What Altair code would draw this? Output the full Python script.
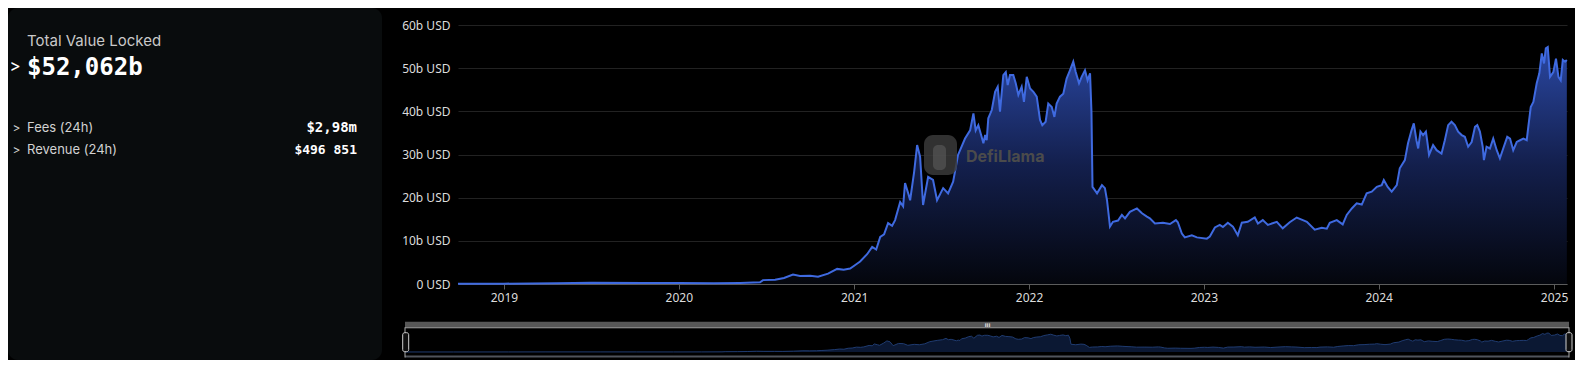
import altair as alt
import pandas as pd

# ---- data (time as decimal year, TVL in billions USD) ----
t_early = [2018.737, 2019.000, 2019.300, 2019.500, 2019.800, 2020.000, 2020.200, 2020.350, 2020.463, 2020.480,
           2020.549, 2020.600, 2020.651, 2020.691, 2020.749, 2020.794, 2020.851, 2020.903, 2020.940, 2020.977]
v_early = [0.05, 0.08, 0.15, 0.3, 0.25, 0.22, 0.15, 0.25, 0.4, 0.9,
           1.0, 1.4, 2.2, 1.85, 1.9, 1.7, 2.4, 3.5, 3.3, 3.6]

t_2021a = [2021.006, 2021.034, 2021.074, 2021.103, 2021.126, 2021.149, 2021.171, 2021.194, 2021.217, 2021.234,
           2021.263, 2021.280, 2021.291, 2021.309, 2021.320, 2021.343, 2021.360, 2021.377, 2021.394, 2021.423,
           2021.451, 2021.474, 2021.509, 2021.537, 2021.566]
v_2021a = [4.4, 5.2, 6.9, 8.6, 8.0, 10.9, 11.5, 14.1, 13.5, 14.8,
           19.0, 18.0, 23.4, 21.0, 19.4, 26.0, 32.2, 29.5, 18.3, 24.8,
           24.1, 19.4, 22.2, 21.0, 23.7]

t_peak = [2021.594, 2021.634, 2021.663, 2021.682, 2021.695, 2021.710, 2021.726, 2021.739, 2021.749, 2021.758,
          2021.767, 2021.787, 2021.806, 2021.821, 2021.834, 2021.853, 2021.867, 2021.878, 2021.891, 2021.910,
          2021.924, 2021.939, 2021.958, 2021.971, 2021.987, 2022.006, 2022.025, 2022.044, 2022.063, 2022.076,
          2022.095, 2022.110, 2022.130, 2022.145, 2022.158, 2022.177, 2022.196, 2022.215, 2022.234, 2022.253,
          2022.267, 2022.286, 2022.301, 2022.320, 2022.335, 2022.349, 2022.357, 2022.363]
v_peak = [29.9, 33.7, 35.6, 39.5, 35.6, 36.8, 34.5, 32.6, 34.5, 33.3,
          38.4, 40.3, 44.5, 45.7, 39.9, 48.4, 49.1, 46.1, 48.4, 48.4,
          46.5, 43.8, 45.7, 42.2, 48.0, 45.3, 44.5, 43.4, 38.0, 36.8,
          37.6, 41.8, 41.0, 38.7, 41.8, 43.4, 44.1, 47.6, 49.5, 51.5,
          49.1, 46.5, 48.0, 49.5, 47.2, 48.8, 40.0, 22.5]

t_bear = [2022.389, 2022.417, 2022.434, 2022.446, 2022.463, 2022.480, 2022.509, 2022.531, 2022.549, 2022.577,
          2022.617, 2022.646, 2022.674, 2022.691, 2022.720, 2022.766, 2022.806, 2022.840, 2022.851, 2022.874,
          2022.891, 2022.931, 2022.960, 2023.017, 2023.034, 2023.063, 2023.091, 2023.109, 2023.137, 2023.166,
          2023.194, 2023.217, 2023.251, 2023.291, 2023.309, 2023.337, 2023.366, 2023.417, 2023.451, 2023.491,
          2023.531, 2023.566, 2023.589, 2023.634, 2023.674, 2023.703, 2023.720, 2023.760, 2023.794, 2023.817,
          2023.846, 2023.874, 2023.903, 2023.931, 2023.960, 2023.989, 2024.017, 2024.029, 2024.051, 2024.074,
          2024.103]
v_bear = [21.0, 22.9, 22.2, 19.4, 13.3, 14.4, 14.7, 16.0, 15.2, 16.7,
          17.5, 16.4, 15.6, 15.2, 14.0, 14.2, 13.9, 14.8, 14.3, 11.7,
          10.8, 11.3, 10.8, 10.5, 11.0, 13.1, 13.7, 13.2, 14.2, 13.3,
          11.3, 14.2, 14.4, 15.4, 14.0, 14.8, 13.7, 14.4, 12.9, 14.3,
          15.4, 14.8, 14.4, 12.6, 13.0, 12.8, 14.2, 14.8, 13.8, 16.0,
          17.5, 18.7, 18.4, 21.0, 21.4, 22.5, 22.9, 24.1, 22.5, 21.4,
          22.9]

t_2024 = [2024.120, 2024.149, 2024.167, 2024.187, 2024.200, 2024.215, 2024.225, 2024.238, 2024.253, 2024.269,
          2024.276, 2024.287, 2024.310, 2024.330, 2024.358, 2024.377, 2024.396, 2024.415, 2024.434, 2024.453,
          2024.473, 2024.491, 2024.510, 2024.530, 2024.549, 2024.562, 2024.577, 2024.593, 2024.600, 2024.615,
          2024.634, 2024.653, 2024.673, 2024.691, 2024.710, 2024.733, 2024.749, 2024.767, 2024.787, 2024.806,
          2024.825, 2024.844, 2024.853, 2024.867, 2024.882, 2024.901, 2024.916, 2024.930, 2024.943, 2024.953,
          2024.964, 2024.977, 2024.996, 2025.011, 2025.025, 2025.038, 2025.050, 2025.063, 2025.073]
v_2024 = [26.8, 28.7, 32.6, 35.6, 37.2, 33.3, 31.4, 35.3, 34.5, 35.3,
          33.3, 29.9, 32.2, 31.0, 30.2, 33.3, 36.8, 37.6, 36.8, 35.3,
          34.5, 34.1, 31.8, 32.9, 36.4, 36.8, 35.3, 31.8, 28.7, 31.8,
          31.4, 33.7, 31.0, 29.1, 31.4, 34.1, 33.7, 31.0, 32.9, 33.3,
          33.7, 33.3, 36.4, 41.0, 42.2, 46.5, 48.8, 53.4, 51.1, 54.6,
          54.9, 48.0, 49.1, 52.2, 48.0, 47.2, 51.9, 51.5, 51.9]

time_years = t_early + t_2021a + t_peak + t_bear + t_2024
tvl_billions = v_early + v_2021a + v_peak + v_bear + v_2024

x_start_year = 2018.737
x_end_year = 2025.074
year_ticks = [2019, 2020, 2021, 2022, 2023, 2024, 2025]
y_ticks = [0, 10, 20, 30, 40, 50, 60]

panel_title = "Total Value Locked"
panel_value = "$52,062b"
row_labels = ["Fees (24h)", "Revenue (24h)"]
row_values = ["$2,98m", "$496 851"]
watermark = "DefiLlama"


def to_ts(t):
    y = int(t)
    s = pd.Timestamp(y, 1, 1)
    e = pd.Timestamp(y + 1, 1, 1)
    return s + (e - s) * (t - y)


def to_dt(t):
    ts = to_ts(t)
    return alt.DateTime(year=ts.year, month=ts.month, date=ts.day, hours=ts.hour)


df = pd.DataFrame({"date": [to_ts(t) for t in time_years], "tvl": tvl_billions})
x_domain = [to_dt(x_start_year), to_dt(x_end_year)]

base = alt.Chart(df)

# ---- main chart ----
xs = alt.X(
    "date:T",
    scale=alt.Scale(domain=x_domain, range=[450, 1559]),
    axis=alt.Axis(
        orient="bottom", offset=-76, values=[alt.DateTime(year=y, month=1, date=1) for y in year_ticks],
        format="%Y", grid=False, title=None, domainColor="#5c5c5c", tickColor="#5c5c5c",
        tickSize=5, labelPadding=3, labelColor="#dcdcdc", labelFont="Noto Sans",
        labelFontSize=12, labelFlush=False,
    ),
)
ys = alt.Y(
    "tvl:Q",
    scale=alt.Scale(domain=[0, 60], range=[276, 17], nice=False, zero=True),
    axis=alt.Axis(
        orient="left", offset=-450, values=y_ticks, domain=False, ticks=False,
        labelExpr="datum.value == 0 ? '0 USD' : datum.value + 'b USD'",
        labelPadding=8, grid=True, gridColor="#222222", gridWidth=1, title=None,
        labelColor="#dcdcdc", labelFont="Noto Sans", labelFontSize=12,
    ),
)

gradient = alt.LinearGradient(
    gradient="linear",
    stops=[
        alt.GradientStop(color="#2a47a2", offset=0),
        alt.GradientStop(color="#131f4c", offset=0.5),
        alt.GradientStop(color="#04060d", offset=1),
    ],
    x1=1, x2=1, y1=0, y2=1,
)
area = base.mark_area(color=gradient).encode(x=xs, y=ys)
line = base.mark_line(color="#3f6ae0", strokeWidth=2).encode(x=xs, y=ys)
main = alt.layer(area, line)

# ---- slider mini chart ----
xs2 = alt.X("date:T", scale=alt.Scale(domain=x_domain, range=[397, 1561]), axis=None)
ys2 = alt.Y("tvl:Q", scale=alt.Scale(domain=[0, 60], range=[344, 323.3], nice=False), axis=None)
mini = base.mark_area(color="#0f2248", line={"color": "#1f3b70", "strokeWidth": 1}).encode(
    x=xs2, y=ys2, y2=alt.value(347.5)
)

one = pd.DataFrame({"k": [0]})


def rect(x, x2, y, y2, **kw):
    return alt.Chart(one).mark_rect(**kw).encode(
        x=alt.value(x), x2=alt.value(x2), y=alt.value(y), y2=alt.value(y2)
    )


def txt(s, x, y, **kw):
    return alt.Chart(one).mark_text(text=s, **kw).encode(x=alt.value(x), y=alt.value(y))


panel = rect(0, 374, 0, 352, color="#090c0d", cornerRadius=10)
texts = [
    txt(panel_title, 19, 33, align="left", baseline="middle", font="Inter", fontSize=15, color="#c9c9c9"),
    txt(">", 7, 59, align="center", baseline="middle", font="Inter", fontSize=17, color="#ffffff"),
    txt(panel_value, 19, 60, align="left", baseline="middle", font="DejaVu Sans Mono", fontSize=24,
        fontWeight="bold", color="#ffffff"),
    txt(">", 8.5, 120, align="center", baseline="middle", font="Inter", fontSize=12, color="#cfcfcf"),
    txt(row_labels[0], 19, 120, align="left", baseline="middle", font="Inter", fontSize=13, color="#d2d2d2"),
    txt(row_values[0], 349, 120, align="right", baseline="middle", font="DejaVu Sans Mono", fontSize=14,
        fontWeight="bold", color="#ffffff"),
    txt(">", 8.5, 142, align="center", baseline="middle", font="Inter", fontSize=12, color="#cfcfcf"),
    txt(row_labels[1], 19, 142, align="left", baseline="middle", font="Inter", fontSize=13, color="#d2d2d2"),
    txt(row_values[1], 349, 142, align="right", baseline="middle", font="DejaVu Sans Mono", fontSize=13,
        fontWeight="bold", color="#ffffff"),
]

wm = [
    rect(916, 949, 127, 167, color="#3a3a3a", opacity=0.85, cornerRadius=9),
    rect(925, 938, 137, 162, color="#555555", opacity=0.7, cornerRadius=5),
    txt(watermark, 958, 149, align="left", baseline="middle", font="Inter", fontSize=16,
        fontWeight="bold", color="#4b4b4b"),
]

slider = [
    rect(397, 1561, 313.7, 319.3, color="#575757"),
    rect(397, 1561, 319.3, 320.3, color="#a8a8a8"),
    rect(397, 1561, 347.6, 349.4, color="#50545c"),
    rect(396.5, 397.5, 319.3, 349.4, color="#a8a8a8"),
    rect(1560.5, 1561.5, 319.3, 349.4, color="#a8a8a8"),
    rect(394.7, 400.7, 324.7, 343.7, color="#101010", stroke="#d0d0d0", strokeWidth=1, cornerRadius=2),
    rect(1558, 1564, 324.7, 343.7, color="#101010", stroke="#d0d0d0", strokeWidth=1, cornerRadius=2),
    txt("III", 979.5, 316.8, align="center", baseline="middle", font="DejaVu Sans", fontSize=5,
        fontWeight="bold", color="#e0e0e0"),
]

chart = alt.layer(panel, *texts, main, *wm, mini, *slider).resolve_scale(
    x="independent", y="independent"
).properties(
    width=1567, height=352, padding=0, autosize=alt.AutoSizeParams(type="none"), background="#000000"
).configure_view(strokeWidth=0, fill=None)

chart.save("out.html", embed_options={"renderer": "svg", "actions": False})
